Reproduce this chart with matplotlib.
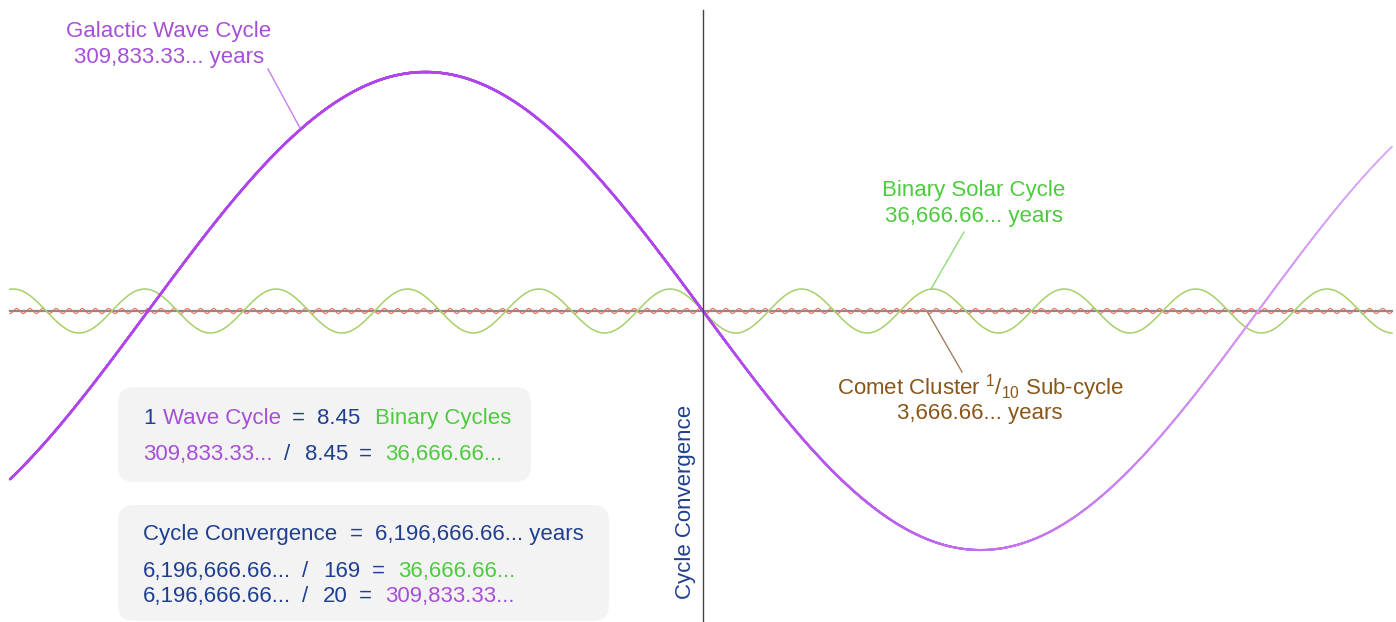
import numpy as np
import matplotlib
matplotlib.use("Agg")
import matplotlib.pyplot as plt
from matplotlib.collections import LineCollection
from matplotlib.patches import FancyBboxPatch
from matplotlib.colors import to_rgba

plt.rcParams['font.family'] = ['Liberation Sans', 'DejaVu Sans']
plt.rcParams['mathtext.fontset'] = 'custom'
plt.rcParams['mathtext.rm'] = 'Liberation Sans'

# ---- data ----
cycle_names = ["Galactic Wave Cycle", "Binary Solar Cycle", "Comet Cluster Sub-cycle"]
periods_years = [309833.33, 36666.66, 3666.66]
amplitudes = [1.0, 0.092, 0.0105]
convergence_years = 6196666.66
binary_per_wave = 8.45

W, H = 1396, 622
fig = plt.figure(figsize=(W / 100, H / 100), dpi=100)
ax = fig.add_axes([0, 0, 1, 1])
ax.set_axis_off()

# pixel scale
px_per_period = 1110.0
k = periods_years[0] / px_per_period   # years per pixel
x0px = 703.0
amp_px = 239.0
ax.set_xlim(-x0px * k, (W - x0px) * k)
ax.set_ylim(-311.0 / amp_px, 311.0 / amp_px)

def fx(px):
    return px / W

def fy(py):
    return 1 - py / H

t = np.linspace((10 - x0px) * k, (1392 - x0px) * k, 6000)

# baseline
ax.plot([t[0], t[-1]], [0, 0], color='#8a8a8a', lw=1.6, zorder=1)

# comet cluster
y_c = -amplitudes[2] * np.sin(2 * np.pi * t / periods_years[2])
ax.plot(t, y_c, color='#f06a5a', lw=0.8, zorder=2)

# binary
y_b = -amplitudes[1] * np.sin(2 * np.pi * t / periods_years[1])
ax.plot(t, y_b, color='#a8cf68', lw=1.1, zorder=3)

# galactic with fade to the right
y_g = -amplitudes[0] * np.sin(2 * np.pi * t / periods_years[0])
pts = np.column_stack([t, y_g])
segs = np.stack([pts[:-1], pts[1:]], axis=1)
tm = 0.5 * (t[:-1] + t[1:])
frac = np.clip(tm / t[-1], 0, 1)
base = np.array(to_rgba('#b045ee'))
light = np.array(to_rgba('#dcaaf8'))
cols = base[None, :] * (1 - frac[:, None]) + light[None, :] * frac[:, None]
lws = 1.8 - 0.7 * frac
lc = LineCollection(segs, colors=cols, linewidths=lws, zorder=4, capstyle='round')
ax.add_collection(lc)

# vertical convergence line
ax.plot([0, 0], [(311 - 10) / amp_px, -311 / amp_px], color='#444444', lw=1.0, zorder=5)

# colours
PURPLE = '#a64fd8'
GREEN = '#4ccc3c'
NAVY = '#1f3f90'
BROWN = '#8a5518'
FS = 16

def data_pt(px, py):
    return ((px - x0px) * k, (311 - py) / amp_px)

# leader lines
for (a, b, c) in [((268, 69), (300, 128), '#c580ee'),
                  ((964, 232), (931, 289), '#8fdc7a'),
                  ((928, 313), (962, 372), '#a08060')]:
    p1, p2 = data_pt(*a), data_pt(*b)
    ax.plot([p1[0], p2[0]], [p1[1], p2[1]], color=c, lw=1.0, zorder=6)

# labels
fig.text(fx(169), fy(32), "Galactic Wave Cycle", color=PURPLE, fontsize=FS, ha='center', va='center')
fig.text(fx(169), fy(58), "309,833.33... years", color=PURPLE, fontsize=FS, ha='center', va='center')
fig.text(fx(974), fy(190), "Binary Solar Cycle", color=GREEN, fontsize=FS, ha='center', va='center')
fig.text(fx(974), fy(216), "36,666.66... years", color=GREEN, fontsize=FS, ha='center', va='center')
fig.text(fx(981), fy(388), "Comet Cluster $\\mathregular{^{1}/_{10}}$ Sub-cycle", color=BROWN,
         fontsize=FS, ha='center', va='center')
fig.text(fx(980), fy(414), "3,666.66... years", color=BROWN, fontsize=FS, ha='center', va='center')
fig.text(fx(686), fy(502), "Cycle Convergence", color=NAVY, fontsize=FS, ha='center', va='center',
         rotation=90)

# boxes
for (x1, y1, x2, y2) in [(118, 387, 531, 482), (118, 505, 609, 621)]:
    r = 16
    box = FancyBboxPatch((fx(x1 + r), fy(y2 - r)), fx(x2 - x1 - 2 * r), (y2 - y1 - 2 * r) / H,
                         boxstyle="round,pad=%f,rounding_size=%f" % (r / W, r / W),
                         transform=fig.transFigure, facecolor='#f3f3f3', edgecolor='none',
                         zorder=0, mutation_aspect=W / H)
    fig.patches.append(box)

def seg(px, py, s, c):
    fig.text(fx(px), fy(py), s, color=c, fontsize=FS, ha='left', va='baseline')

wave_str = f"{periods_years[0]:,.2f}..."
bin_str = f"{periods_years[1]:,.2f}..."
conv_str = f"{convergence_years:,.2f}..."
n_bin = round(convergence_years / periods_years[1])
n_wave = round(convergence_years / periods_years[0])

# box 1
seg(143, 424, "1", NAVY)
seg(163, 424, "Wave Cycle", PURPLE)
seg(292, 424, "=", NAVY)
seg(317, 424, f"{binary_per_wave}", NAVY)
seg(375, 424, "Binary Cycles", GREEN)
seg(143, 460, wave_str, PURPLE)
seg(284, 460, "/", NAVY)
seg(305, 460, f"{binary_per_wave}", NAVY)
seg(359, 460, "=", NAVY)
seg(385, 460, bin_str, GREEN)

# box 2
seg(143, 540, "Cycle Convergence", NAVY)
seg(350, 540, "=", NAVY)
seg(375, 540, conv_str + " years", NAVY)
seg(143, 577, conv_str, NAVY)
seg(302, 577, "/", NAVY)
seg(323, 577, f"{n_bin}", NAVY)
seg(372, 577, "=", NAVY)
seg(398, 577, bin_str, GREEN)
seg(143, 602, conv_str, NAVY)
seg(302, 602, "/", NAVY)
seg(323, 602, f"{n_wave}", NAVY)
seg(359, 602, "=", NAVY)
seg(385, 602, wave_str, PURPLE)

fig.savefig("out.png", dpi=100, facecolor='white')
